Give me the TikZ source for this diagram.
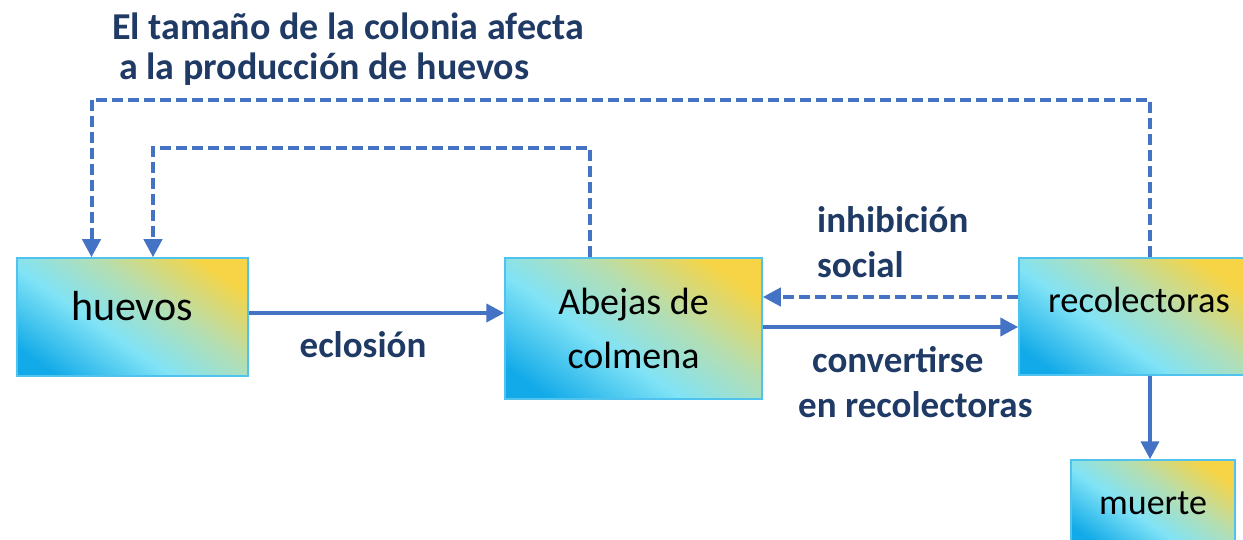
\documentclass[tikz,border=0pt]{standalone}
\usepackage{fontspec}
\setmainfont{Carlito}
\usetikzlibrary{arrows.meta,calc}
\definecolor{arrowblue}{HTML}{4472C4}
\definecolor{navy}{HTML}{1F3A64}
\definecolor{gA}{HTML}{12AAE8}
\definecolor{gB}{HTML}{80E3F6}
\definecolor{gC}{HTML}{B4DEB2}
\definecolor{gD}{HTML}{F6D445}
\definecolor{boxborder}{HTML}{4FC3EE}
\pgfdeclarehorizontalshading{boxgrad}{100bp}{color(0bp)=(gA); color(22bp)=(gA); color(42bp)=(gB); color(58bp)=(gC); color(76bp)=(gD); color(100bp)=(gD)}
\tikzset{
  box/.style={draw=boxborder, line width=1.5pt, shading=boxgrad, shading angle=55, inner sep=0pt, align=center, text=black, font=\fontsize{38}{54}\selectfont},
  lbl/.style={text=navy, font=\bfseries\fontsize{37}{45}\selectfont, inner sep=0pt},
  conn/.style={draw=arrowblue, line width=4pt, -{Triangle[length=18pt,width=18pt]}},
  dconn/.style={conn, dash pattern=on 11pt off 5pt}
}
\begin{document}
\begin{tikzpicture}[x=1pt,y=-1pt]
\useasboundingbox (0,0) rectangle (1243,540);
\node[box, minimum width=231pt, minimum height=118pt] (hv) at (132.5,317) {};
\node[font=\fontsize{42}{50}\selectfont] (hvt) at (132,306) {huevos};
\node[box, minimum width=257pt, minimum height=141pt] (ab) at (633.5,328.5) {Abejas de\\colmena};
\node[box, minimum width=226pt, minimum height=117pt] (rc) at (1132,316.5) {};
\node[font=\fontsize{36.5}{44}\selectfont] (rct) at (1139,300) {recolectoras};
\node[box, minimum width=164pt, minimum height=86pt, font=\fontsize{36}{44}\selectfont] (mu) at (1153,503) {muerte};
% coordinates for connector routing
\coordinate (y313) at (0,313);
\coordinate (y327) at (0,327);
\coordinate (y297) at (0,297);
\coordinate (xr) at (1150,0);
\coordinate (xa) at (590,0);
\coordinate (xh1) at (91.5,0);
\coordinate (xh2) at (153,0);
\coordinate (top1) at (0,100);
\coordinate (top2) at (0,148);
% solid connectors
\draw[conn] (hv.east |- y313) -- (ab.west |- y313);
\draw[conn] (ab.east |- y327) -- (rc.west |- y327);
\draw[conn] (rc.south -| xr) -- (mu.north -| xr);
% dashed connectors
\draw[dconn] (rc.west |- y297) -- (ab.east |- y297);
\draw[dconn] (rc.north -| xr) -- (xr |- top1) -- (xh1 |- top1) -- (hv.north -| xh1);
\draw[dconn] (ab.north -| xa) -- (xa |- top2) -- (xh2 |- top2) -- (hv.north -| xh2);
% labels
\node[lbl] (l1) at (363,345) {eclosión};
\node[lbl, anchor=west] (l2) at (817,220) {inhibición};
\node[lbl, anchor=west] (l3) at (817,265) {social};
\node[lbl, anchor=west] (l4) at (812,360) {convertirse};
\node[lbl, anchor=west] (l5) at (798,405) {en recolectoras};
\node[lbl, anchor=west, font=\bfseries\fontsize{38}{45}\selectfont] (t1) at (112,26) {El tamaño de la colonia afecta};
\node[lbl, anchor=west, font=\bfseries\fontsize{38}{45}\selectfont] (t2) at (119,69) {a la producción de huevos};
\end{tikzpicture}
\end{document}
